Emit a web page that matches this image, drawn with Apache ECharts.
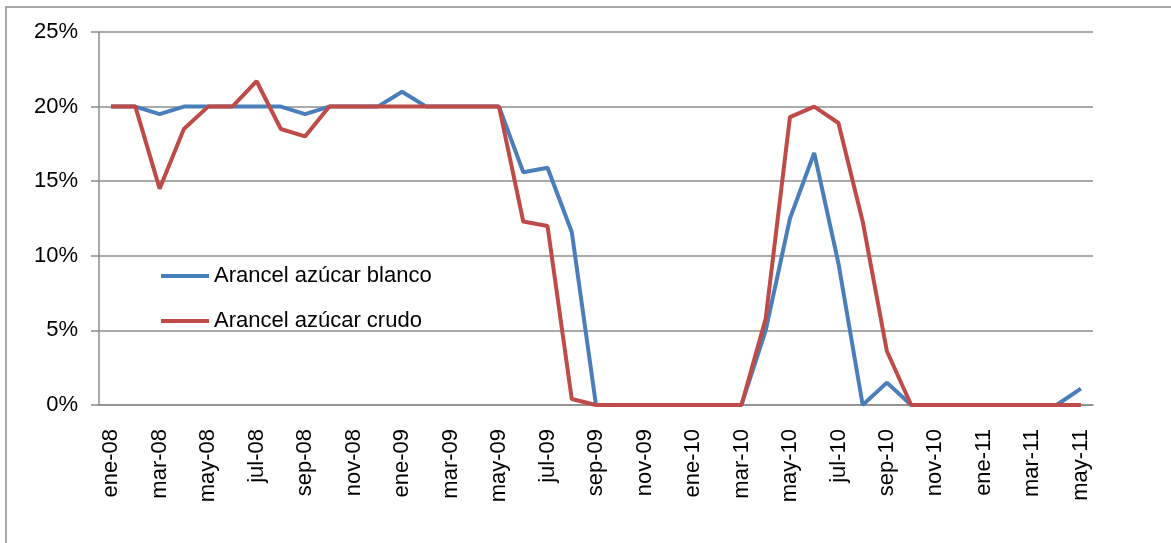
<!DOCTYPE html>
<html>
<head>
    <meta charset="utf-8">
    <title>arancel azucar</title>
    <style>
        html, body { margin: 0; padding: 0; background: #fff; }
    </style>
</head>
<body>
    <div id="main" style="width: 1171px;height:543px;"></div>

    <script src="https://cdn.jsdelivr.net/npm/echarts@6/dist/echarts.min.js"></script>
    <script type="text/javascript">
        // meses ene-08 .. may-11
        var meses = ['ene', 'feb', 'mar', 'abr', 'may', 'jun', 'jul', 'ago', 'sep', 'oct', 'nov', 'dic'];
        var fechas = [];
        for (var a = 8; a <= 11; a++) {
            for (var m = 0; m < 12; m++) {
                if (a == 11 && m > 4) break;
                fechas.push(meses[m] + '-' + (a < 10 ? '0' + a : a));
            }
        }

        var blanco = [20, 20, 19.5, 20, 20, 20, 20, 20, 19.5, 20, 20, 20, 21, 20, 20, 20, 20,
            15.6, 15.9, 11.6, 0, 0, 0, 0, 0, 0, 0, 5.0, 12.5, 16.9, 9.5, 0, 1.5,
            0, 0, 0, 0, 0, 0, 0, 1.1];
        var crudo = [20, 20, 14.5, 18.5, 20, 20, 21.7, 18.5, 18.0, 20, 20, 20, 20, 20, 20, 20, 20,
            12.3, 12.0, 0.4, 0, 0, 0, 0, 0, 0, 0, 5.8, 19.3, 20, 18.9, 12.3, 3.6,
            0, 0, 0, 0, 0, 0, 0, 0];
        var yTicks = [0, 5, 10, 15, 20, 25];

        var fuente = 'Liberation Sans';
        var gris = '#8c8c8c';
        var myChart = echarts.init(document.getElementById('main'));
        var option = {
            animation: false,
            textStyle: { fontFamily: fuente },
            // borde del area del grafico (solo arriba e izquierda visibles)
            graphic: [{
                type: 'polyline',
                shape: { points: [[6, 800], [6, 7], [1400, 7]] },
                style: { fill: 'none', stroke: gris, lineWidth: 1.5 },
                silent: true
            }],
            legend: {
                orient: 'vertical',
                left: 156,
                top: 260,
                itemWidth: 48,
                itemHeight: 4,
                itemGap: 23,
                icon: 'rect',
                selectedMode: false,
                textStyle: { fontFamily: fuente, fontSize: 22, color: '#000' },
                data: ['Arancel azúcar blanco', 'Arancel azúcar crudo']
            },
            grid: {
                left: 99,
                right: 78,
                top: 32,
                bottom: 138
            },
            xAxis: {
                type: 'category',
                boundaryGap: true,
                data: fechas,
                axisLine: { lineStyle: { color: gris, width: 1.5 } },
                axisTick: { interval: 1, length: 7, lineStyle: { color: gris, width: 1.5 } },
                axisLabel: {
                    interval: 1,
                    rotate: 90,
                    margin: 24,
                    fontFamily: fuente,
                    fontSize: 22,
                    color: '#000'
                }
            },
            yAxis: {
                type: 'value',
                min: yTicks[0],
                max: yTicks[yTicks.length - 1],
                interval: 5,
                axisLine: { show: true, lineStyle: { color: gris, width: 1.5 } },
                axisTick: { show: true, length: 8, lineStyle: { color: gris, width: 1.5 } },
                splitLine: { lineStyle: { color: gris, width: 1.5 } },
                axisLabel: {
                    formatter: '{value}%',
                    margin: 21,
                    fontFamily: fuente,
                    fontSize: 22,
                    color: '#000'
                }
            },
            series: [
                {
                    name: 'Arancel azúcar blanco',
                    type: 'line',
                    data: blanco,
                    symbol: 'none',
                    color: '#4a7ebb',
                    lineStyle: { width: 4, color: '#4a7ebb' }
                },
                {
                    name: 'Arancel azúcar crudo',
                    type: 'line',
                    data: crudo,
                    symbol: 'none',
                    color: '#be4b48',
                    lineStyle: { width: 4, color: '#be4b48' }
                }
            ]
        };
        myChart.setOption(option);
    </script>
</body>
</html>
